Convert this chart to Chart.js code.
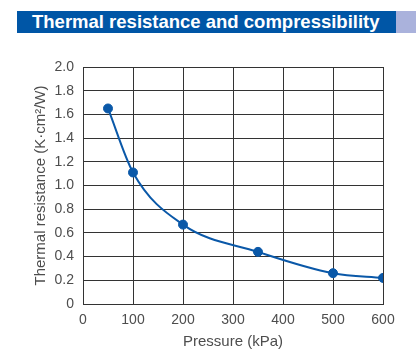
<!DOCTYPE html>
<html><head><meta charset="utf-8">
<script src="https://cdn.jsdelivr.net/npm/chart.js@4.4.1/dist/chart.umd.min.js"></script>
<style>
html,body{margin:0;padding:0;background:#fff;width:416px;height:359px;overflow:hidden;}
#bar{position:absolute;left:17px;top:11px;width:379px;height:22px;background:#0056a6;}
#bar span{position:absolute;left:15px;top:0;line-height:22px;font:bold 18.5px "Liberation Sans",Arial,sans-serif;color:#fff;white-space:nowrap;}
#side{position:absolute;left:396px;top:11px;width:20px;height:22px;background:#aab2dc;}
#wrap{position:absolute;left:0;top:0;width:416px;height:359px;}
</style></head>
<body>
<div id="wrap"><canvas id="c" width="416" height="359"></canvas></div>
<div id="bar"><span>Thermal resistance and compressibility</span></div>
<div id="side"></div>
<script>
const pressure = [50, 100, 200, 350, 500, 600];
const resistance = [1.65, 1.11, 0.67, 0.44, 0.26, 0.22];
const xTitle = 'Pressure (kPa)';
const yTitle = 'Thermal resistance (K·cm²/W)';
const chartTitle = 'Thermal resistance and compressibility';

const grid = '#333333';
const textColor = '#4d4d4d';
const font = {family: '"Liberation Sans", Arial, sans-serif', size: 14};
const titleFont = {family: '"Liberation Sans", Arial, sans-serif', size: 15};

new Chart(document.getElementById('c'), {
  type: 'line',
  data: {
    datasets: [{
      data: pressure.map((p, i) => ({x: p, y: resistance[i]})),
      borderColor: '#0a58a8',
      backgroundColor: '#0a58a8',
      borderWidth: 2,
      pointRadius: 4.5,
      pointBorderWidth: 1,
      pointHoverRadius: 4.5,
      cubicInterpolationMode: 'monotone',
      fill: false
    }]
  },
  options: {
    responsive: false,
    animation: false,
    layout: {padding: {top: 67, right: 33, left: 32, bottom: 8}},
    plugins: {legend: {display: false}, tooltip: {enabled: false}, title: {display: false, text: chartTitle}},
    scales: {
      x: {
        type: 'linear', min: 0, max: 600,
        ticks: {stepSize: 100, color: textColor, font: font, padding: 8, maxRotation: 0},
        grid: {color: grid, lineWidth: 1, drawTicks: false},
        border: {color: grid, width: 1},
        title: {display: true, text: xTitle, color: textColor, font: titleFont, padding: {top: 2, bottom: 0}},
        afterFit: s => { s.height = 47; }
      },
      y: {
        min: 0, max: 2,
        ticks: {stepSize: 0.2, color: textColor, font: font, padding: 9,
          callback: v => v === 0 ? '0' : v.toFixed(1)},
        grid: {color: grid, lineWidth: 1, drawTicks: false},
        border: {color: grid, width: 1},
        title: {display: true, text: yTitle, color: textColor, font: titleFont, padding: {top: 0, bottom: 0}},
        afterFit: s => { s.width = 51; }
      }
    }
  }
});
</script>
</body></html>
